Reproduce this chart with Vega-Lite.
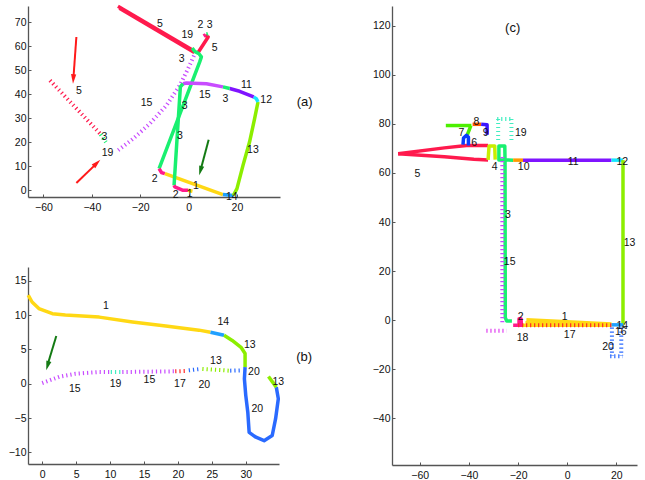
{
  "$schema": "https://vega.github.io/schema/vega-lite/v6.json",
  "padding": {"left": 8, "top": 4, "right": 5, "bottom": 5},
  "background": "white",
  "spacing": 59,
  "datasets": {
    "aSolid": [
      {"g": "a5a", "s": 5, "x": -29.2, "y": 76.7}, {"g": "a5a", "s": 5, "x": 1.8, "y": 58.4},
      {"g": "a5b", "s": 5, "x": -28.6, "y": 75.9}, {"g": "a5b", "s": 5, "x": 2.4, "y": 57.4},
      {"g": "a5c", "s": 5, "x": 3.6, "y": 56.9}, {"g": "a5c", "s": 5, "x": 8.1, "y": 63.9}, {"g": "a5c", "s": 5, "x": 6.8, "y": 64.6},
      {"g": "a2a", "s": 2, "x": 6.2, "y": 64.3}, {"g": "a2a", "s": 2, "x": 7.0, "y": 64.8},
      {"g": "a3a", "s": 3, "x": 7.4, "y": 65.1}, {"g": "a3a", "s": 3, "x": 8.0, "y": 65.3},
      {"g": "a3b", "s": 3, "x": 1.5, "y": 59.3}, {"g": "a3b", "s": 3, "x": 2.5, "y": 57.9}, {"g": "a3b", "s": 3, "x": 4.3, "y": 56.9}, {"g": "a3b", "s": 3, "x": 5.3, "y": 55.6}, {"g": "a3b", "s": 3, "x": 4.6, "y": 53.5}, {"g": "a3b", "s": 3, "x": -12.2, "y": 9.0},
      {"g": "a2b", "s": 2, "x": -12.2, "y": 9.0}, {"g": "a2b", "s": 2, "x": -11.2, "y": 7.4}, {"g": "a2b", "s": 2, "x": -9.8, "y": 6.9},
      {"g": "a1a", "s": 1, "x": -9.8, "y": 6.9}, {"g": "a1a", "s": 1, "x": 14.2, "y": -1.8},
      {"g": "a14", "s": 14, "x": 14.2, "y": -1.8}, {"g": "a14", "s": 14, "x": 18.5, "y": -2.2},
      {"g": "a13", "s": 13, "x": 18.5, "y": -2.2}, {"g": "a13", "s": 13, "x": 20.0, "y": 0.7}, {"g": "a13", "s": 13, "x": 22.5, "y": 10.4}, {"g": "a13", "s": 13, "x": 25.2, "y": 20.1}, {"g": "a13", "s": 13, "x": 27.3, "y": 29.9}, {"g": "a13", "s": 13, "x": 28.7, "y": 36.8},
      {"g": "a12", "s": 12, "x": 28.7, "y": 36.8}, {"g": "a12", "s": 12, "x": 28.0, "y": 38.2}, {"g": "a12", "s": 12, "x": 26.9, "y": 38.9},
      {"g": "a11", "s": 11, "x": 26.9, "y": 38.9}, {"g": "a11", "s": 11, "x": 21.1, "y": 41.25}, {"g": "a11", "s": 11, "x": 17.0, "y": 42.4},
      {"g": "a3c", "s": 3, "x": 17.0, "y": 42.4}, {"g": "a3c", "s": 3, "x": 14.2, "y": 43.1},
      {"g": "a15", "s": 15, "x": 14.2, "y": 43.1}, {"g": "a15", "s": 15, "x": 7.4, "y": 44.4}, {"g": "a15", "s": 15, "x": -0.9, "y": 44.7}, {"g": "a15", "s": 15, "x": -2.3, "y": 44.4},
      {"g": "a3d", "s": 3, "x": -2.3, "y": 44.4}, {"g": "a3d", "s": 3, "x": -3.4, "y": 43.1}, {"g": "a3d", "s": 3, "x": -6.0, "y": 2.1},
      {"g": "a2c", "s": 2, "x": -6.0, "y": 2.1}, {"g": "a2c", "s": 2, "x": -5.7, "y": 1.4}, {"g": "a2c", "s": 2, "x": -2.3, "y": 0.0}, {"g": "a2c", "s": 2, "x": -0.2, "y": 0.0},
      {"g": "a1b", "s": 1, "x": -0.2, "y": 0.0}, {"g": "a1b", "s": 1, "x": 1.6, "y": -0.4}
    ],
    "aDot": [
      {"g": "ad15", "s": 15, "x": -29.1, "y": 16.7}, {"g": "ad15", "s": 15, "x": -22.9, "y": 21.5}, {"g": "ad15", "s": 15, "x": -16.0, "y": 27.8}, {"g": "ad15", "s": 15, "x": -9.1, "y": 35.4}, {"g": "ad15", "s": 15, "x": -3.6, "y": 43.75}, {"g": "ad15", "s": 15, "x": -0.2, "y": 50.7}, {"g": "ad15", "s": 15, "x": 2.3, "y": 56.25},
      {"g": "ad5", "s": 5, "x": -57.3, "y": 45.8}, {"g": "ad5", "s": 5, "x": -47.6, "y": 35.4}, {"g": "ad5", "s": 5, "x": -36.6, "y": 23.6},
      {"g": "ad3", "s": 3, "x": -36.4, "y": 23.3}, {"g": "ad3", "s": 3, "x": -34.2, "y": 20.1}
    ],
    "aLabels": [
      {"t": "5", "x": -11.9, "y": 69.3}, {"t": "2", "x": 4.9, "y": 69.0}, {"t": "3", "x": 8.7, "y": 69.0},
      {"t": "19", "x": -0.5, "y": 64.6}, {"t": "5", "x": 10.8, "y": 59.4}, {"t": "3", "x": -2.9, "y": 54.9},
      {"t": "5", "x": -45.3, "y": 41.25}, {"t": "15", "x": -17.4, "y": 36.5}, {"t": "11", "x": 23.9, "y": 43.75},
      {"t": "15", "x": 6.7, "y": 39.9}, {"t": "3", "x": 15.2, "y": 38.2}, {"t": "12", "x": 32.1, "y": 37.8},
      {"t": "3", "x": -1.6, "y": 35.0}, {"t": "3", "x": -34.8, "y": 22.2}, {"t": "3", "x": -3.6, "y": 22.5},
      {"t": "19", "x": -33.5, "y": 15.7}, {"t": "13", "x": 26.6, "y": 16.7}, {"t": "2", "x": -14.0, "y": 4.9},
      {"t": "1", "x": 3.0, "y": 1.7}, {"t": "1", "x": 0.5, "y": -1.4}, {"t": "2", "x": -5.3, "y": -2.1},
      {"t": "14", "x": 17.9, "y": -2.8}
    ],
    "bSolid": [
      {"g": "b1", "s": 1, "x": -2.07, "y": 12.9}, {"g": "b1", "s": 1, "x": -1.5, "y": 11.9}, {"g": "b1", "s": 1, "x": -0.5, "y": 10.95}, {"g": "b1", "s": 1, "x": 1.5, "y": 10.2}, {"g": "b1", "s": 1, "x": 3.4, "y": 10.0}, {"g": "b1", "s": 1, "x": 8.4, "y": 9.7}, {"g": "b1", "s": 1, "x": 13.3, "y": 9.0}, {"g": "b1", "s": 1, "x": 18.2, "y": 8.4}, {"g": "b1", "s": 1, "x": 23.1, "y": 7.8}, {"g": "b1", "s": 1, "x": 24.8, "y": 7.5},
      {"g": "b14", "s": 14, "x": 24.8, "y": 7.5}, {"g": "b14", "s": 14, "x": 26.8, "y": 7.05},
      {"g": "b13a", "s": 13, "x": 26.8, "y": 7.05}, {"g": "b13a", "s": 13, "x": 28.0, "y": 6.3}, {"g": "b13a", "s": 13, "x": 29.3, "y": 5.3}, {"g": "b13a", "s": 13, "x": 29.9, "y": 4.4}, {"g": "b13a", "s": 13, "x": 29.9, "y": 2.4},
      {"g": "b20", "s": 20, "x": 29.9, "y": 2.4}, {"g": "b20", "s": 20, "x": 29.8, "y": 0.7}, {"g": "b20", "s": 20, "x": 30.0, "y": -1.7}, {"g": "b20", "s": 20, "x": 30.3, "y": -4.15}, {"g": "b20", "s": 20, "x": 30.5, "y": -7.1}, {"g": "b20", "s": 20, "x": 31.5, "y": -7.8}, {"g": "b20", "s": 20, "x": 32.7, "y": -8.3}, {"g": "b20", "s": 20, "x": 33.9, "y": -7.55}, {"g": "b20", "s": 20, "x": 34.4, "y": -5.1}, {"g": "b20", "s": 20, "x": 34.8, "y": -2.2}, {"g": "b20", "s": 20, "x": 34.5, "y": -0.5},
      {"g": "b13b", "s": 13, "x": 34.5, "y": -0.5}, {"g": "b13b", "s": 13, "x": 33.35, "y": 1.06}
    ],
    "bDot": [
      {"g": "bd15a", "s": 15, "x": 0.0, "y": 0.1}, {"g": "bd15a", "s": 15, "x": 2.5, "y": 1.0}, {"g": "bd15a", "s": 15, "x": 4.9, "y": 1.45}, {"g": "bd15a", "s": 15, "x": 8.4, "y": 1.7}, {"g": "bd15a", "s": 15, "x": 10.1, "y": 1.7},
      {"g": "bd19", "s": 19, "x": 10.1, "y": 1.7}, {"g": "bd19", "s": 19, "x": 11.8, "y": 1.7},
      {"g": "bd15b", "s": 15, "x": 11.8, "y": 1.7}, {"g": "bd15b", "s": 15, "x": 19.4, "y": 1.8},
      {"g": "bd17", "s": 17, "x": 19.6, "y": 1.8}, {"g": "bd17", "s": 17, "x": 21.4, "y": 1.85},
      {"g": "bd20a", "s": 20, "x": 21.6, "y": 1.95}, {"g": "bd20a", "s": 20, "x": 23.4, "y": 2.15},
      {"g": "bd13", "s": 13, "x": 23.6, "y": 2.15}, {"g": "bd13", "s": 13, "x": 27.5, "y": 1.9},
      {"g": "bd20b", "s": 20, "x": 27.7, "y": 1.9}, {"g": "bd20b", "s": 20, "x": 29.5, "y": 1.95}
    ],
    "bLabels": [
      {"t": "1", "x": 9.4, "y": 11.3}, {"t": "14", "x": 26.7, "y": 9.0}, {"t": "13", "x": 30.6, "y": 5.7},
      {"t": "13", "x": 25.6, "y": 3.25}, {"t": "20", "x": 31.2, "y": 1.7}, {"t": "13", "x": 34.8, "y": 0.23},
      {"t": "15", "x": 4.8, "y": -0.74}, {"t": "19", "x": 10.8, "y": 0.0}, {"t": "15", "x": 15.8, "y": 0.5},
      {"t": "17", "x": 20.3, "y": 0.0}, {"t": "20", "x": 23.9, "y": -0.25}, {"t": "20", "x": 31.7, "y": -3.7}
    ],
    "cSolid": [
      {"g": "c5a", "s": 5, "x": -32.2, "y": 71.2}, {"g": "c5a", "s": 5, "x": -41.0, "y": 71.2}, {"g": "c5a", "s": 5, "x": -50.0, "y": 70.2}, {"g": "c5a", "s": 5, "x": -68.8, "y": 67.8},
      {"g": "c5b", "s": 5, "x": -68.8, "y": 67.8}, {"g": "c5b", "s": 5, "x": -50.0, "y": 66.6}, {"g": "c5b", "s": 5, "x": -38.0, "y": 65.6}, {"g": "c5b", "s": 5, "x": -32.2, "y": 65.3},
      {"g": "c4", "s": 4, "x": -32.2, "y": 65.3}, {"g": "c4", "s": 4, "x": -31.8, "y": 71.0}, {"g": "c4", "s": 4, "x": -29.5, "y": 71.0}, {"g": "c4", "s": 4, "x": -29.3, "y": 65.4},
      {"g": "c3", "s": 3, "x": -22.0, "y": 65.2}, {"g": "c3", "s": 3, "x": -27.8, "y": 65.3}, {"g": "c3", "s": 3, "x": -27.8, "y": 71.0}, {"g": "c3", "s": 3, "x": -25.4, "y": 71.0}, {"g": "c3", "s": 3, "x": -25.3, "y": 65.0}, {"g": "c3", "s": 3, "x": -25.2, "y": 1.0}, {"g": "c3", "s": 3, "x": -24.6, "y": -0.3}, {"g": "c3", "s": 3, "x": -22.5, "y": -0.3},
      {"g": "c10", "s": 10, "x": -22.0, "y": 65.2}, {"g": "c10", "s": 10, "x": -18.0, "y": 65.2},
      {"g": "c11", "s": 11, "x": -18.0, "y": 65.2}, {"g": "c11", "s": 11, "x": 18.0, "y": 65.2},
      {"g": "c12", "s": 12, "x": 18.0, "y": 65.2}, {"g": "c12", "s": 12, "x": 22.7, "y": 65.2},
      {"g": "c13", "s": 13, "x": 22.7, "y": 65.2}, {"g": "c13", "s": 13, "x": 22.7, "y": -1.8},
      {"g": "c1a", "s": 1, "x": -16.6, "y": 0.2}, {"g": "c1a", "s": 1, "x": 0.0, "y": -0.6}, {"g": "c1a", "s": 1, "x": 18.0, "y": -1.6},
      {"g": "c1c", "s": 1, "x": -17.0, "y": -1.0}, {"g": "c1c", "s": 1, "x": 18.0, "y": -1.9},
      {"g": "c1b", "s": 1, "x": -20.0, "y": -2.1}, {"g": "c1b", "s": 1, "x": 18.0, "y": -2.1},
      {"g": "c14", "s": 14, "x": 18.0, "y": -1.9}, {"g": "c14", "s": 14, "x": 22.7, "y": -1.9},
      {"g": "c2", "s": 2, "x": -22.0, "y": -2.1}, {"g": "c2", "s": 2, "x": -18.6, "y": -2.1}, {"g": "c2", "s": 2, "x": -18.8, "y": 0.6}, {"g": "c2", "s": 2, "x": -19.6, "y": 0.6}, {"g": "c2", "s": 2, "x": -19.6, "y": -1.6},
      {"g": "c7a", "s": 7, "x": -49.4, "y": 79.3}, {"g": "c7a", "s": 7, "x": -39.0, "y": 79.3},
      {"g": "c7b", "s": 7, "x": -39.2, "y": 79.3}, {"g": "c7b", "s": 7, "x": -40.7, "y": 75.4},
      {"g": "c8", "s": 8, "x": -38.5, "y": 79.8}, {"g": "c8", "s": 8, "x": -35.0, "y": 79.8},
      {"g": "c9", "s": 9, "x": -35.0, "y": 79.8}, {"g": "c9", "s": 9, "x": -32.6, "y": 79.6}, {"g": "c9", "s": 9, "x": -32.6, "y": 75.5},
      {"g": "c6", "s": 6, "x": -42.4, "y": 71.5}, {"g": "c6", "s": 6, "x": -42.2, "y": 74.2}, {"g": "c6", "s": 6, "x": -41.0, "y": 75.3}, {"g": "c6", "s": 6, "x": -40.2, "y": 74.5}, {"g": "c6", "s": 6, "x": -40.2, "y": 71.2}
    ],
    "cDot": [
      {"g": "cd15", "s": 15, "x": -26.4, "y": 66.5}, {"g": "cd15", "s": 15, "x": -26.4, "y": -2.0},
      {"g": "cd17", "s": 17, "x": -20.0, "y": -2.1}, {"g": "cd17", "s": 17, "x": 18.0, "y": -2.1},
      {"g": "cd18", "s": 18, "x": -32.9, "y": -4.3}, {"g": "cd18", "s": 18, "x": -24.7, "y": -4.3},
      {"g": "cd20a", "s": 20, "x": 18.2, "y": -3.0}, {"g": "cd20a", "s": 20, "x": 18.2, "y": -14.6},
      {"g": "cd20b", "s": 20, "x": 22.0, "y": -3.0}, {"g": "cd20b", "s": 20, "x": 22.0, "y": -14.6},
      {"g": "cd20c", "s": 20, "x": 17.5, "y": -14.7}, {"g": "cd20c", "s": 20, "x": 22.5, "y": -14.7},
      {"g": "cd19a", "s": 19, "x": -28.1, "y": 82.0}, {"g": "cd19a", "s": 19, "x": -28.1, "y": 72.5},
      {"g": "cd19b", "s": 19, "x": -22.7, "y": 82.0}, {"g": "cd19b", "s": 19, "x": -22.7, "y": 72.5},
      {"g": "cd19c", "s": 19, "x": -28.5, "y": 82.0}, {"g": "cd19c", "s": 19, "x": -22.3, "y": 82.0}
    ],
    "cLabels": [
      {"t": "8", "x": -36.9, "y": 80.6}, {"t": "7", "x": -43.0, "y": 76.2}, {"t": "9", "x": -33.2, "y": 76.2},
      {"t": "19", "x": -18.9, "y": 76.2}, {"t": "6", "x": -37.9, "y": 72.1}, {"t": "4", "x": -29.5, "y": 62.4},
      {"t": "10", "x": -17.7, "y": 62.4}, {"t": "11", "x": 2.4, "y": 64.4}, {"t": "12", "x": 22.4, "y": 64.4},
      {"t": "5", "x": -61.0, "y": 59.6}, {"t": "3", "x": -24.1, "y": 43.0}, {"t": "13", "x": 25.4, "y": 31.3},
      {"t": "15", "x": -23.4, "y": 23.9}, {"t": "2", "x": -18.9, "y": 1.5}, {"t": "1", "x": -1.0, "y": 1.2},
      {"t": "14", "x": 22.4, "y": -2.2}, {"t": "16", "x": 21.8, "y": -4.9}, {"t": "18", "x": -18.2, "y": -7.2},
      {"t": "17", "x": 1.0, "y": -5.9}, {"t": "20", "x": 16.6, "y": -10.8}
    ],
    "redArrows": [
      {"id": "r1", "x": -46.4, "y": 63.9}, {"id": "r1", "x": -47.6, "y": 47.0},
      {"id": "r2", "x": -46.4, "y": 3.0}, {"id": "r2", "x": -38.2, "y": 11.0}
    ],
    "greenArrowA": [
      {"id": "g1", "x": 8.3, "y": 21.1}, {"id": "g1", "x": 5.0, "y": 8.6}
    ],
    "greenArrowB": [
      {"id": "g2", "x": 2.07, "y": 6.96}, {"id": "g2", "x": 0.8, "y": 2.8}
    ]
  },
  "hconcat": [
    {
      "vconcat": [
        {
          "width": 252,
          "height": 191,
          "encoding": {
            "x": {"field": "x", "type": "quantitative", "title": null, "scale": {"domain": [-66.4, 37.8], "nice": false, "zero": false}, "axis": {"values": [-60, -40, -20, 0, 20], "labelPadding": 8}},
            "y": {"field": "y", "type": "quantitative", "title": null, "scale": {"domain": [-2.8, 76.8], "nice": false, "zero": false}, "axis": {"values": [0, 10, 20, 30, 40, 50, 60, 70]}}
          },
          "layer": [
            {"data": {"name": "aDot"}, "mark": {"type": "line", "strokeWidth": 4, "strokeDash": [1.2, 3], "strokeCap": "butt"},
             "encoding": {"color": {"field": "s", "type": "nominal", "legend": null, "scale": {"domain": [1,2,3,4,5,6,7,8,9,10,11,12,13,14,15,16,17,18,19,20], "range": ["#ffd814", "#ff1a8c", "#19f070", "#c8ee00", "#ff1a4d", "#0a3cff", "#4cf000", "#ff5a00", "#3c14ff", "#ff9a00", "#7f14ff", "#14e6ff", "#8cee00", "#20a0ff", "#c84cff", "#4aa0ff", "#ff2a2a", "#e040f0", "#40eec0", "#2a6aff"]}}, "detail": {"field": "g"}, "order": {"value": null}}},
            {"data": {"name": "aSolid"}, "mark": {"type": "line", "strokeWidth": 3.5, "strokeCap": "butt", "strokeJoin": "round"},
             "encoding": {"color": {"field": "s", "type": "nominal", "legend": null}, "detail": {"field": "g"}, "order": {"value": null}}},
            {"data": {"name": "redArrows"}, "mark": {"type": "line", "strokeWidth": 2, "color": "#ff1a1a"}, "encoding": {"detail": {"field": "id"}, "order": {"value": null}}},
            {"data": {"values": [{"x": -47.8, "y": 44.4}]}, "mark": {"type": "point", "shape": "M0,0L0.55,2L-0.55,2Z", "size": 90, "filled": true, "opacity": 1, "color": "#ff1a1a", "angle": 184}, "encoding": {}},
            {"data": {"values": [{"x": -36.5, "y": 12.75}]}, "mark": {"type": "point", "shape": "M0,0L0.55,2L-0.55,2Z", "size": 90, "filled": true, "opacity": 1, "color": "#ff1a1a", "angle": 46}, "encoding": {}},
            {"data": {"name": "greenArrowA"}, "mark": {"type": "line", "strokeWidth": 2, "color": "#137a13"}, "encoding": {"detail": {"field": "id"}, "order": {"value": null}}},
            {"data": {"values": [{"x": 4.4, "y": 6.25}]}, "mark": {"type": "point", "shape": "M0,0L0.55,2L-0.55,2Z", "size": 90, "filled": true, "opacity": 1, "color": "#137a13", "angle": 195}, "encoding": {}},
            {"data": {"name": "aLabels"}, "mark": {"type": "text", "font": "Liberation Sans", "fontSize": 10.5, "color": "#111"}, "encoding": {"text": {"field": "t"}}},
            {"data": {"values": [{"t": "(a)", "x": 48.0, "y": 36.8}]}, "mark": {"type": "text", "font": "Liberation Sans", "fontSize": 13, "color": "#111"}, "encoding": {"text": {"field": "t"}}}
          ]
        },
        {
          "width": 251,
          "height": 197,
          "encoding": {
            "x": {"field": "x", "type": "quantitative", "title": null, "scale": {"domain": [-2.1, 34.9], "nice": false, "zero": false}, "axis": {"values": [0, 5, 10, 15, 20, 25, 30], "labelPadding": 8}},
            "y": {"field": "y", "type": "quantitative", "title": null, "scale": {"domain": [-11.7, 17], "nice": false, "zero": false}, "axis": {"values": [-10, -5, 0, 5, 10, 15]}}
          },
          "layer": [
            {"data": {"name": "bDot"}, "mark": {"type": "line", "strokeWidth": 4, "strokeDash": [1.2, 3], "strokeCap": "butt"},
             "encoding": {"color": {"field": "s", "type": "nominal", "legend": null}, "detail": {"field": "g"}, "order": {"value": null}}},
            {"data": {"name": "bSolid"}, "mark": {"type": "line", "strokeWidth": 3.5, "strokeCap": "butt", "strokeJoin": "round"},
             "encoding": {"color": {"field": "s", "type": "nominal", "legend": null}, "detail": {"field": "g"}, "order": {"value": null}}},
            {"data": {"name": "greenArrowB"}, "mark": {"type": "line", "strokeWidth": 2, "color": "#137a13"}, "encoding": {"detail": {"field": "id"}, "order": {"value": null}}},
            {"data": {"values": [{"x": 0.59, "y": 1.94}]}, "mark": {"type": "point", "shape": "M0,0L0.55,2L-0.55,2Z", "size": 90, "filled": true, "opacity": 1, "color": "#137a13", "angle": 196}, "encoding": {}},
            {"data": {"name": "bLabels"}, "mark": {"type": "text", "font": "Liberation Sans", "fontSize": 10.5, "color": "#111"}, "encoding": {"text": {"field": "t"}}},
            {"data": {"values": [{"t": "(b)", "x": 38.6, "y": 3.9}]}, "mark": {"type": "text", "font": "Liberation Sans", "fontSize": 13, "color": "#111"}, "encoding": {"text": {"field": "t"}}}
          ]
        }
      ],
      "spacing": 70,
      "bounds": "flush"
    },
    {
      "width": 245,
      "height": 459,
      "encoding": {
        "x": {"field": "x", "type": "quantitative", "title": null, "scale": {"domain": [-71.3, 28.4], "nice": false, "zero": false}, "axis": {"values": [-60, -40, -20, 0, 20], "labelPadding": 8}},
        "y": {"field": "y", "type": "quantitative", "title": null, "scale": {"domain": [-59, 128], "nice": false, "zero": false}, "axis": {"values": [-40, -20, 0, 20, 40, 60, 80, 100, 120]}}
      },
      "layer": [
        {"data": {"name": "cSolid"}, "mark": {"type": "line", "strokeWidth": 3.5, "strokeCap": "butt", "strokeJoin": "round"},
         "encoding": {"color": {"field": "s", "type": "nominal", "legend": null}, "detail": {"field": "g"}, "order": {"value": null}}},
        {"data": {"name": "cDot"}, "mark": {"type": "line", "strokeWidth": 4, "strokeDash": [1.2, 2.8], "strokeCap": "butt"},
         "encoding": {"color": {"field": "s", "type": "nominal", "legend": null}, "detail": {"field": "g"}, "order": {"value": null}}},
        {"data": {"name": "cLabels"}, "mark": {"type": "text", "font": "Liberation Sans", "fontSize": 10.5, "color": "#111"}, "encoding": {"text": {"field": "t"}}},
        {"data": {"values": [{"t": "(c)", "x": -22.2, "y": 119}]}, "mark": {"type": "text", "font": "Liberation Sans", "fontSize": 13, "color": "#111"}, "encoding": {"text": {"field": "t"}}}
      ]
    }
  ],
  "config": {
    "view": {"stroke": null},
    "axis": {"grid": false, "domainColor": "#555", "domainWidth": 1.3, "tickColor": "#555", "tickSize": -3, "tickWidth": 1, "labelFont": "Liberation Sans", "labelFontSize": 10.5, "labelColor": "#111", "labelPadding": 5, "labelFlush": false, "labelOverlap": false}
  }
}
